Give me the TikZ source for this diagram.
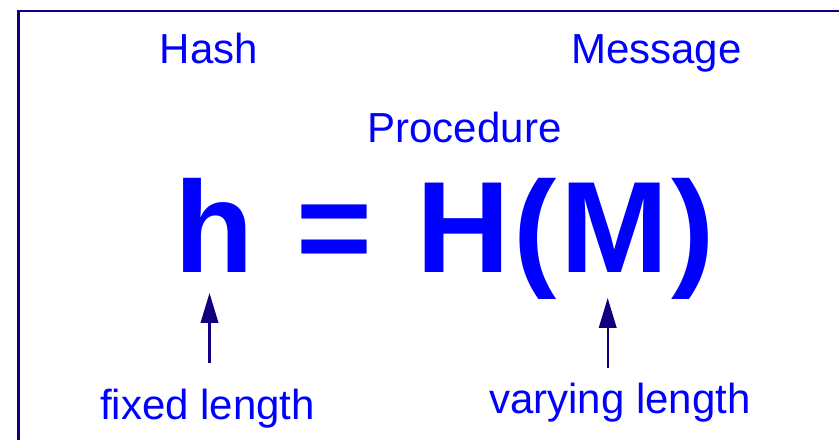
\documentclass[tikz,border=0pt]{standalone}
\usepackage{fontspec}
\setmainfont{Liberation Sans}
\newfontfamily\spacedsans{Liberation Sans}[LetterSpace=2.5]
\usetikzlibrary{arrows.meta}
\definecolor{framenavy}{RGB}{16,0,128}
\definecolor{textblue}{RGB}{0,0,255}
\begin{document}
\begin{tikzpicture}[x=1bp,y=-1bp,
  lbl/.style={text=textblue, font=\fontsize{42bp}{50bp}\selectfont, inner sep=0pt, anchor=base},
  big/.style={text=textblue, font=\fontsize{130bp}{150bp}\selectfont\bfseries, inner sep=0pt, anchor=base},
  bigspaced/.style={text=textblue, font=\fontsize{130bp}{150bp}\spacedsans\bfseries, inner sep=0pt, anchor=base},
  pointer/.style={draw=framenavy, line width=2.2bp, -{Triangle[length=30bp,width=17.5bp]}}]
\useasboundingbox (0,0) rectangle (839,440);
\draw[framenavy, line width=2.3bp] (18.5,441) -- (18.5,11) -- (840,11);
\node[lbl] (hash) at (209,63.5) {Hash};
\node[lbl] (message) at (656.5,63.5) {Message};
\node[lbl] (procedure) at (464.5,143) {Procedure};
\node[big] (hsym) at (214.5,273) {h};
\node[big] (eq) at (334.5,273) {=};
\node[bigspaced] (HM) at (566,273) {H(M)};
\node[lbl] (fixed) at (207.5,419) {fixed length};
\node[lbl] (varying) at (620,413) {varying length};
\coordinate (ftail) at (209.5,363);
\coordinate (fhead) at (209.5,293);
\coordinate (vtail) at (607.7,368);
\coordinate (vhead) at (607.7,298);
\draw[pointer] (ftail) -- (fhead);
\draw[pointer] (vtail) -- (vhead);
\end{tikzpicture}
\end{document}
